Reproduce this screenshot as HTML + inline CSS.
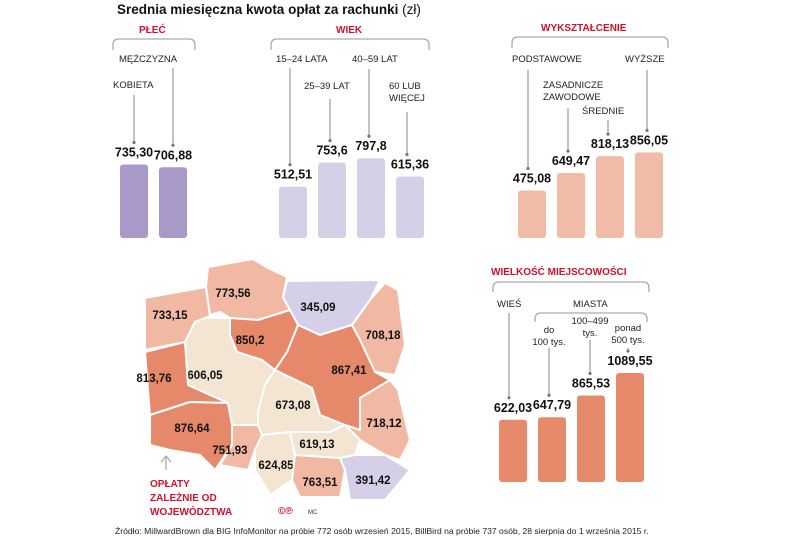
<!DOCTYPE html>
<html><head><meta charset="utf-8"><style>
body{margin:0;background:#fff;}
svg{display:block;font-family:"Liberation Sans",sans-serif;}
.lab{font-size:9.5px;fill:#222;}
.val{font-size:12.5px;font-weight:bold;fill:#111;}
.hd{font-size:10px;font-weight:bold;fill:#d0112b;}
.br{fill:none;stroke:#aaa;stroke-width:1.3;}
.ld{stroke:#777;stroke-width:0.9;}
.reg{stroke:#fff;stroke-width:2;stroke-linejoin:round;}
.mv{font-size:11.5px;font-weight:bold;fill:#111;text-anchor:middle;}
</style></head><body>
<svg id="c" width="805" height="540" viewBox="0 0 805 540">
<text x="117" y="14" font-size="13.5" font-weight="bold" fill="#111">Srednia miesięczna kwota opłat za rachunki <tspan font-weight="normal">(zł)</tspan></text>

<text class="hd" x="139" y="33">PŁEĆ</text>
<path class="br" d="M113,50 v-5 q0,-6 6,-6 h70 q6,0 6,6 v5"/>
<text class="hd" x="336" y="33">WIEK</text>
<path class="br" d="M271,50 v-5 q0,-6 6,-6 h146 q6,0 6,6 v5"/>
<text class="hd" x="541" y="31">WYKSZTAŁCENIE</text>
<path class="br" d="M512,48 v-5 q0,-6 6,-6 h144 q6,0 6,6 v5"/>
<text class="hd" x="491" y="275">WIELKOŚĆ MIEJSCOWOŚCI</text>
<path class="br" d="M493,292 v-4 q0,-6 6,-6 h144 q6,0 6,6 v4"/>
<text class="lab" x="573" y="307">MIASTA</text>
<path class="br" d="M535,322 v-3 q0,-6 6,-6 h100 q6,0 6,6 v3"/>

<g id="bars"></g>
<g id="map"></g>

<path d="M166,470 V457 M161,462 L166,456 L171,462" stroke="#aaa" stroke-width="1.3" fill="none"/>
<text class="hd" x="150" y="487" font-size="10.5"><tspan x="150">OPŁATY</tspan><tspan x="150" dy="14">ZALEŻNIE OD</tspan><tspan x="150" dy="14">WOJEWÓDZTWA</tspan></text>
<text x="278" y="514" font-size="10" font-weight="bold" fill="#d0112b">©℗</text>
<text x="308" y="514" font-size="6" fill="#333">MC</text>
<text x="115" y="534" font-size="8.6" fill="#222">Źródło: MillwardBrown dla BIG InfoMonitor na próbie 772 osób wrzesień 2015, BillBird na próbie 737 osób, 28 sierpnia do 1 września 2015 r.</text>
</svg>
<script>
const plecCats=["KOBIETA","MĘŻCZYZNA"];
const plecVals=[735.30,706.88];
const wiekCats=["15–24 LATA","25–39 LAT","40–59 LAT","60 LUB WIĘCEJ"];
const wiekVals=[512.51,753.6,797.8,615.36];
const wykCats=["PODSTAWOWE","ZASADNICZE ZAWODOWE","ŚREDNIE","WYŻSZE"];
const wykVals=[475.08,649.47,818.13,856.05];
const mieCats=["WIEŚ","do 100 tys.","100–499 tys.","ponad 500 tys."];
const mieVals=[622.03,647.79,865.53,1089.55];
const regionNames=["zachodniopomorskie","pomorskie","warminsko-mazurskie","podlaskie","kujawsko-pomorskie","mazowieckie","wielkopolskie","lubuskie","dolnoslaskie","lodzkie","lubelskie","opolskie","slaskie","swietokrzyskie","malopolskie","podkarpackie"];
const regionVals=[733.15,773.56,345.09,708.18,850.2,867.41,606.05,813.76,876.64,673.08,718.12,751.93,624.85,619.13,763.51,391.42];

const NS="http://www.w3.org/2000/svg";
const scale=v=>v*0.1;
function fmt(v,d){return v.toFixed(d).replace('.',',');}
const svgG=document.getElementById('bars');
function mk(tag,attrs,parent){const e=document.createElementNS(NS,tag);for(const k in attrs)e.setAttribute(k,attrs[k]);parent.appendChild(e);return e;}

const groups=[
 {id:'plec',cats:plecCats,vals:plecVals,dec:[2,2],x0:120,step:39,bottom:238,color:'#a999c9',
  lab:[[113,88,[]],[119,62,[]]],ld:[[134,95],[173,68]]},
 {id:'wiek',cats:wiekCats,vals:wiekVals,dec:[2,1,1,2],x0:279,step:39,bottom:238,color:'#d5d0e8',
  lab:[[276,62,[]],[304,89,[]],[352,62,[]],[389,89,['60 LUB','WIĘCEJ']]],ld:[[290,68],[330,99],[369,69],[407,112]]},
 {id:'wyk',cats:wykCats,vals:wykVals,dec:[2,2,2,2],x0:518,step:39,bottom:238,color:'#f1bca7',
  lab:[[512,62,[]],[543,88,['ZASADNICZE','ZAWODOWE']],[582,114,[]],[625,62,[]]],ld:[[528,70],[568,108],[608,120],[647,70]]},
 {id:'miejscowosc',cats:mieCats,vals:mieVals,dec:[2,2,2,2],x0:499,step:39,bottom:482,color:'#e78a6c',
  lab:[[497,307,[]],[542,333,['do','100 tys.']],[570,324,['100–499','tys.']],[614,331,['ponad','500 tys.']]],ld:[[509,313],[549,348],[590,340],[628,348]]}
];
groups.forEach(g=>{
 g.vals.forEach((v,i)=>{
  const x=g.x0+i*g.step, w=28, h=scale(v), top=g.bottom-h;
  const r=mk('rect',{x:x,y:top,width:w,height:h,rx:3,fill:g.color},svgG);
  
  
  const t=mk('text',{x:x+14,y:top-8,'text-anchor':'middle',class:'val'},svgG);
  t.textContent=fmt(v,g.dec[i]);
  
  
  const L=g.lab[i];const lines=L[2].length?L[2]:[g.cats[i]];
  const small=g.id==='miejscowosc'&&i>0;
  const ct=mk('text',{x:L[0],y:L[1],class:'lab','font-size':small?'8.5':'9.5','text-anchor':small?'middle':'start'},svgG);
  
  
  lines.forEach((s,j)=>{const ts=mk('tspan',{x:small?g.ld[i][0]:L[0],dy:j?12:0},ct);ts.textContent=s;});
  const ly=top-22;
  const ln=mk('line',{x1:g.ld[i][0],y1:g.ld[i][1],x2:g.ld[i][0],y2:ly,class:'ld'},svgG);
  
  
  const dt=mk('circle',{cx:g.ld[i][0],cy:ly,r:1.6,fill:'#777'},svgG);
  
  
 });
});

const shapes=[
 ["145,298 206,287 210,316 195,322 185,342 145,350",170,319],
 ["208,267 253,259 268,268 287,277 283,297 290,310 258,320 230,318 220,312 210,315 206,287",233,297],
 ["287,281 380,280 370,300 352,325 320,335 298,325 290,310 283,297",318,311],
 ["385,283 398,290 405,345 395,375 375,372 360,340 352,325 370,300",383,339],
 ["230,318 258,320 290,310 298,325 295,338 287,352 275,370 262,360 237,352 230,335",250,344],
 ["298,325 320,335 352,325 360,340 375,372 390,380 360,398 360,430 345,425 320,415 312,388 275,370 287,352",349,374],
 ["205,318 230,318 230,335 237,352 262,360 275,370 265,385 258,412 258,425 232,425 228,403 210,395 188,385 185,342 195,322",205,379],
 ["145,352 185,342 188,385 210,395 228,403 190,402 150,415",154,382],
 ["150,415 190,402 228,403 232,425 232,445 215,470 200,455 170,450 150,445",192,432],
 ["275,370 312,388 320,415 345,425 330,432 290,432 262,435 258,425 258,412 265,385",293,409],
 ["360,398 390,380 398,390 410,440 400,460 385,455 360,440 345,425 360,430",384,427],
 ["232,425 258,425 262,435 255,450 248,470 220,465 232,445",230,454],
 ["262,435 290,432 295,455 292,480 270,495 255,470 255,450",276,469],
 ["290,432 330,432 345,425 360,440 355,455 340,458 310,460 295,455",317,448],
 ["295,455 340,458 345,470 340,497 300,497 292,480",320,486],
 ["340,458 355,455 385,455 410,470 385,500 350,500 345,470",373,484]
];
function col(v){if(v<500)return '#d5cfe7';if(v<690)return '#f3e5d1';if(v<800)return '#f1b8a3';return '#e6896a';}
const mg=document.getElementById('map');
regionVals.forEach((v,i)=>{
 const s=shapes[i];
 const p=mk('polygon',{points:s[0],fill:col(v),class:'reg'},mg);
 
 
 const t=mk('text',{x:s[1],y:s[2],class:'mv'},mg);
 t.textContent=fmt(v,v===850.2?1:2);
 
 
});
</script>
</body></html>
